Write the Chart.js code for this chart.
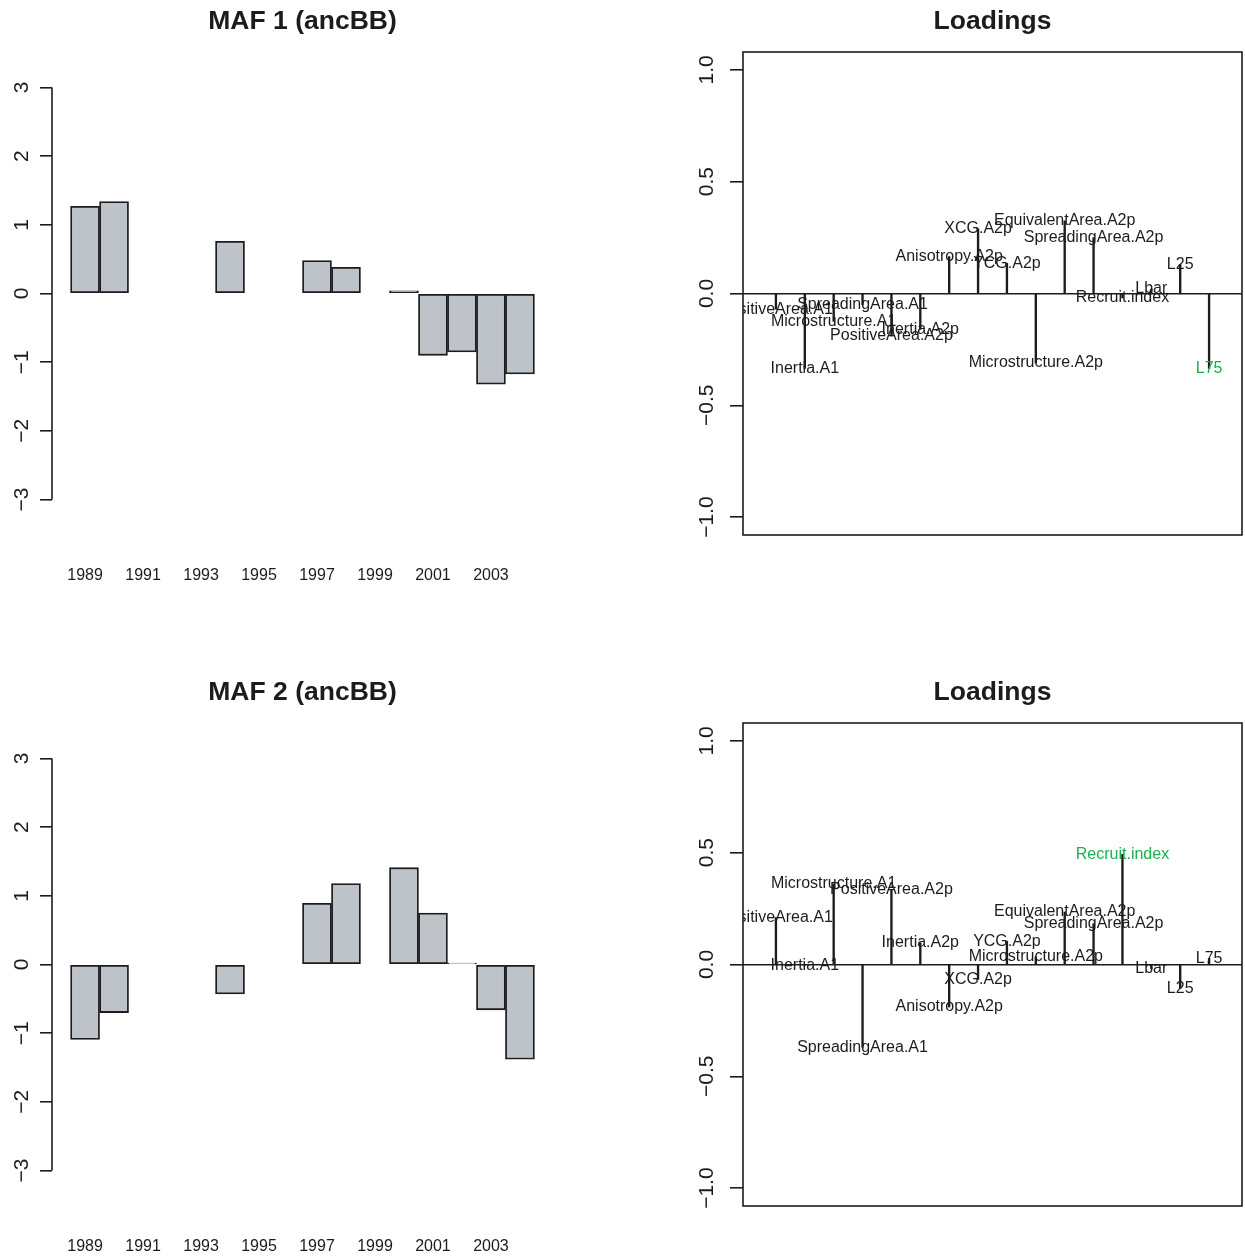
<!DOCTYPE html>
<html><head><meta charset="utf-8">
<script src="https://cdn.jsdelivr.net/npm/chart.js@4.4.1/dist/chart.umd.min.js"></script>
<style>
html,body{margin:0;padding:0;background:#fff;width:1245px;height:1257px;overflow:hidden;}
canvas{position:absolute;display:block;}
</style></head><body>
<canvas id="bar1" width="622" height="586" style="left:0;top:0"></canvas>
<canvas id="load1" width="623" height="586" style="left:622px;top:0"></canvas>
<canvas id="bar2" width="622" height="586" style="left:0;top:671px"></canvas>
<canvas id="load2" width="623" height="586" style="left:622px;top:671px"></canvas>
<script>
// ---------- data ----------
const years = ['1989','1990','1991','1992','1993','1994','1995','1996','1997','1998','1999','2000','2001','2002','2003','2004'];
const maf1 = [1.27, 1.34, null, null, null, 0.76, null, null, 0.48, 0.38, null, 0.04, -0.90, -0.85, -1.32, -1.17];
const maf2 = [-1.09, -0.70, null, null, null, -0.43, null, null, 0.89, 1.18, null, 1.41, 0.75, 0.02, -0.66, -1.38];
const variables = ['PositiveArea.A1','Inertia.A1','Microstructure.A1','SpreadingArea.A1','PositiveArea.A2p','Inertia.A2p','Anisotropy.A2p','XCG.A2p','YCG.A2p','Microstructure.A2p','EquivalentArea.A2p','SpreadingArea.A2p','Recruit.index','Lbar','L25','L75'];
const loadings1 = [-0.07, -0.335, -0.125, -0.05, -0.19, -0.16, 0.165, 0.29, 0.135, -0.31, 0.325, 0.25, -0.02, 0.02, 0.13, -0.335];
const loadings2 = [0.21, -0.003, 0.36, -0.37, 0.335, 0.097, -0.19, -0.067, 0.104, 0.034, 0.235, 0.183, 0.493, -0.018, -0.107, 0.027];
const barTicks = [-3, -2, -1, 0, 1, 2, 3];
const loadTicks = ['-1.0', '-0.5', '0.0', '0.5', '1.0'];
const titles = ['MAF 1 (ancBB)', 'MAF 2 (ancBB)', 'Loadings', 'Loadings'];
const highlight1 = 'L75';
const highlight2 = 'Recruit.index';

// ---------- style ----------
const FONT = '"Liberation Sans", Arial, Helvetica, sans-serif';
const INK = '#1c1c1c';
const GREEN = '#19b04e';
Chart.defaults.font.family = FONT;
Chart.defaults.color = INK;
Chart.defaults.animation = false;

function fmtMinus(s) { return String(s).replace('-', '\u2212'); }
function rotText(ctx, text, x, y, size) {
  ctx.save();
  ctx.translate(x, y);
  ctx.rotate(-Math.PI / 2);
  ctx.font = size + 'px ' + FONT;
  ctx.fillStyle = INK;
  ctx.textAlign = 'center';
  ctx.textBaseline = 'alphabetic';
  ctx.fillText(text, 0, 0);
  ctx.restore();
}
function drawTitle(chart, text) {
  const ctx = chart.ctx, a = chart.chartArea;
  ctx.save();
  ctx.font = 'bold 26.5px ' + FONT;
  ctx.fillStyle = INK;
  ctx.textAlign = 'center';
  ctx.textBaseline = 'middle';
  ctx.fillText(text, (a.left + a.right) / 2, 22);
  ctx.restore();
}

function makeBar(id, values, title) {
  const barPlugin = {
    id: 'barDecor',
    afterDraw(chart) {
      const ctx = chart.ctx, y = chart.scales.y, a = chart.chartArea;
      ctx.save();
      ctx.strokeStyle = INK; ctx.lineWidth = 1.6;
      ctx.beginPath();
      ctx.moveTo(a.left, y.getPixelForValue(barTicks[0]));
      ctx.lineTo(a.left, y.getPixelForValue(barTicks[barTicks.length - 1]));
      ctx.stroke();
      ctx.restore();
      barTicks.forEach(v => rotText(ctx, fmtMinus(v), a.left - 24, y.getPixelForValue(v), 21));
      drawTitle(chart, title);
    }
  };
  return new Chart(document.getElementById(id), {
    type: 'bar',
    data: {
      datasets: [{
        data: years.map((yr, i) => ({ x: i + 0.5, y: values[i] })),
        backgroundColor: '#bec2c9',
        borderColor: INK,
        borderWidth: 1.8,
        borderSkipped: false,
        categoryPercentage: 1,
        barPercentage: 1
      }]
    },
    options: {
      responsive: false,
      layout: { padding: { left: 0, top: 60, right: 69, bottom: 0 } },
      plugins: { legend: { display: false }, tooltip: { enabled: false }, title: { display: false } },
      scales: {
        x: {
          type: 'linear', min: -0.64, max: 16.64, offset: false,
          grid: { display: false, offset: false }, border: { display: false },
          afterBuildTicks: s => { s.ticks = years.map((yr, i) => ({ value: i + 0.5 })).filter((t, i) => i % 2 === 0); },
          afterFit: s => { s.height = 59; },
          ticks: {
            autoSkip: false, maxRotation: 0, minRotation: 0, padding: 31,
            font: { size: 16 }, color: INK,
            callback: v => years[Math.round(v - 0.5)]
          }
        },
        y: {
          type: 'linear', min: -3.4, max: 3.4,
          border: { display: false },
          afterFit: s => { s.width = 52; },
          ticks: { stepSize: 1, includeBounds: false, display: false },
          grid: { drawOnChartArea: false, drawTicks: true, tickLength: 12, color: INK, tickColor: INK, lineWidth: 1.6 }
        }
      }
    },
    plugins: [barPlugin]
  });
}

function makeLoad(id, values, hl) {
  const loadPlugin = {
    id: 'loadDecor',
    afterDatasetsDraw(chart) {
      const ctx = chart.ctx, a = chart.chartArea, xs = chart.scales.x, ys = chart.scales.y;
      ctx.save();
      ctx.beginPath(); ctx.rect(a.left, a.top, a.right - a.left, a.bottom - a.top); ctx.clip();
      ctx.font = '16px ' + FONT;
      ctx.textAlign = 'center';
      ctx.textBaseline = 'middle';
      variables.forEach((name, i) => {
        ctx.fillStyle = name === hl ? GREEN : INK;
        ctx.fillText(name, xs.getPixelForValue(i + 1), ys.getPixelForValue(values[i]));
      });
      ctx.restore();
    },
    afterDraw(chart) {
      const ctx = chart.ctx, a = chart.chartArea, ys = chart.scales.y;
      ctx.save();
      ctx.strokeStyle = INK; ctx.lineWidth = 1.6;
      ctx.strokeRect(a.left, a.top, a.right - a.left, a.bottom - a.top);
      ctx.restore();
      loadTicks.forEach(t => rotText(ctx, fmtMinus(t), a.left - 30.5, ys.getPixelForValue(parseFloat(t)), 21));
      drawTitle(chart, 'Loadings');
    }
  };
  return new Chart(document.getElementById(id), {
    type: 'bar',
    data: {
      datasets: [{
        data: variables.map((n, i) => ({ x: i + 1, y: values[i] })),
        backgroundColor: INK,
        borderWidth: 0,
        barThickness: 1.7
      }]
    },
    options: {
      responsive: false,
      layout: { padding: { left: 0, top: 52, right: 3, bottom: 51 } },
      plugins: { legend: { display: false }, tooltip: { enabled: false }, title: { display: false } },
      scales: {
        x: { type: 'linear', min: -0.14, max: 17.14, display: false, offset: false, grid: { offset: false } },
        y: {
          type: 'linear', min: -1.08, max: 1.08,
          border: { display: false },
          afterFit: s => { s.width = 121; },
          ticks: { stepSize: 0.5, includeBounds: false, display: false },
          grid: {
            drawOnChartArea: true, drawTicks: true, tickLength: 13, lineWidth: 1.6, tickColor: INK,
            color: c => (c.tick && Math.abs(c.tick.value) < 1e-9) ? INK : 'rgba(0,0,0,0)'
          }
        }
      }
    },
    plugins: [loadPlugin]
  });
}

makeBar('bar1', maf1, titles[0]);
makeBar('bar2', maf2, titles[1]);
makeLoad('load1', loadings1, highlight1);
makeLoad('load2', loadings2, highlight2);
</script>
</body></html>
